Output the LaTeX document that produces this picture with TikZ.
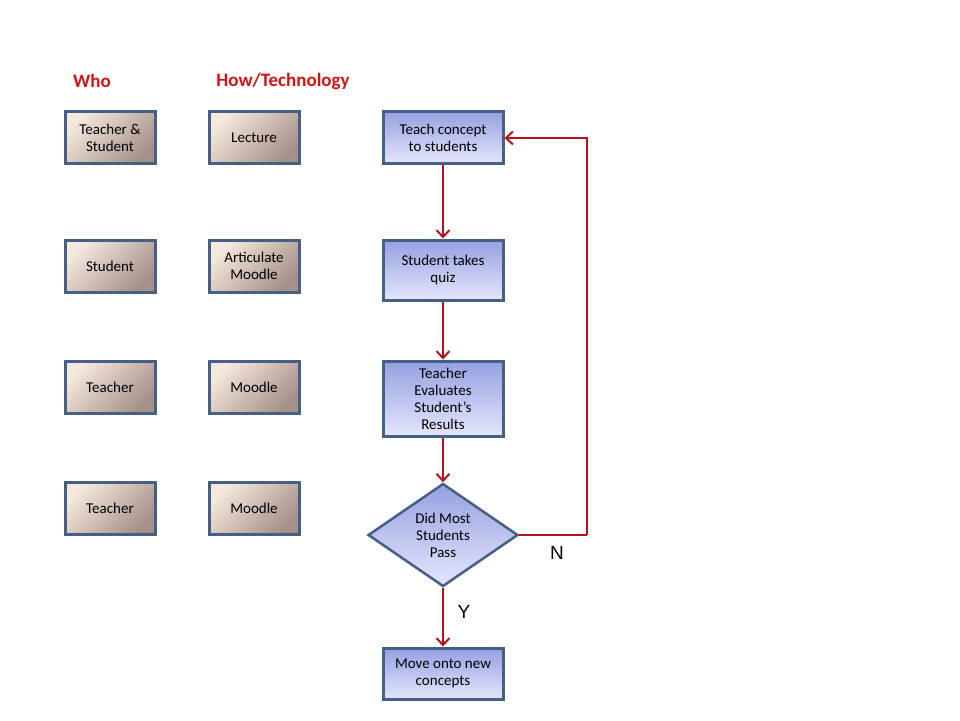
\documentclass[tikz,border=0pt]{standalone}
\usepackage{fontspec}
\setmainfont{Carlito}
\newfontfamily\arialf{Liberation Sans}
\usetikzlibrary{shapes.geometric,arrows.meta,shadings}
\definecolor{hdred}{RGB}{210,20,20}
\definecolor{arrred}{RGB}{180,20,25}
\definecolor{bordr}{RGB}{70,95,135}
\definecolor{tanA}{RGB}{245,232,222}
\definecolor{tanB}{RGB}{165,145,135}
\definecolor{bluA}{RGB}{150,160,225}
\definecolor{bluB}{RGB}{228,230,252}
\begin{document}
\begin{tikzpicture}[x=1pt,y=-1pt,
  txt/.style={font=\fontsize{15}{17}\selectfont, align=center},
  tanbox/.style={txt, draw=bordr, line width=3pt, minimum width=90pt, minimum height=52pt,
    top color=tanA, bottom color=tanB, shading angle=45},
  blubox/.style={txt, draw=bordr, line width=3pt, minimum width=120pt,
    top color=bluA, bottom color=bluB},
  dia/.style={txt, draw=bordr, line width=2.5pt, diamond, aspect=1.45, inner sep=0pt,
    minimum width=150pt, minimum height=103pt, top color=bluA, bottom color=bluB},
  hdr/.style={font=\fontsize{19}{22}\selectfont\bfseries, text=hdred},
  conn/.style={draw=arrred, line width=2pt, -{Straight Barb[length=7pt,width=13pt,line width=2pt]}},
  seg/.style={draw=arrred, line width=2pt},
  lbl/.style={font=\arialf\fontsize{19}{22}\selectfont}
]
\useasboundingbox (0,0) rectangle (960,720);
\node[hdr] (who) at (92,81) {Who};
\node[hdr] (how) at (283,81) {How/Technology};

\node[tanbox] (w1) at (110,137.5) {Teacher \&\\Student};
\node[tanbox] (w2) at (110,266) {Student};
\node[tanbox] (w3) at (110,387) {Teacher};
\node[tanbox] (w4) at (110,508) {Teacher};

\node[tanbox] (h1) at (254,137.5) {Lecture};
\node[tanbox] (h2) at (254,266) {Articulate\\Moodle};
\node[tanbox] (h3) at (254,387) {Moodle};
\node[tanbox] (h4) at (254,508) {Moodle};

\node[blubox, minimum height=52pt] (s1) at (443,137.5) {Teach concept\\to students};
\node[blubox, minimum height=60pt] (s2) at (443,270) {Student takes\\quiz};
\node[blubox, minimum height=75pt] (s3) at (443,398.5) {Teacher\\Evaluates\\Student’s\\Results};
\node[dia] (d) at (443,535) {Did Most\\Students\\Pass};
\node[blubox, minimum height=51pt] (s5) at (443,673.5) {Move onto new\\concepts};

\coordinate (c1) at (587,535);
\coordinate (c2) at (587,138);

\draw[conn] (s1) -- (s2);
\draw[conn] (s2) -- (s3);
\draw[conn] (s3) -- (d);
\draw[conn] (d) -- (s5);
\draw[seg] (d.east) -- (c1);
\draw[conn] (c1) -- (c2) -- (s1.east |- c2);

\node[lbl] (n) at (557,553) {N};
\node[lbl] (y) at (464,612) {Y};
\end{tikzpicture}
\end{document}
